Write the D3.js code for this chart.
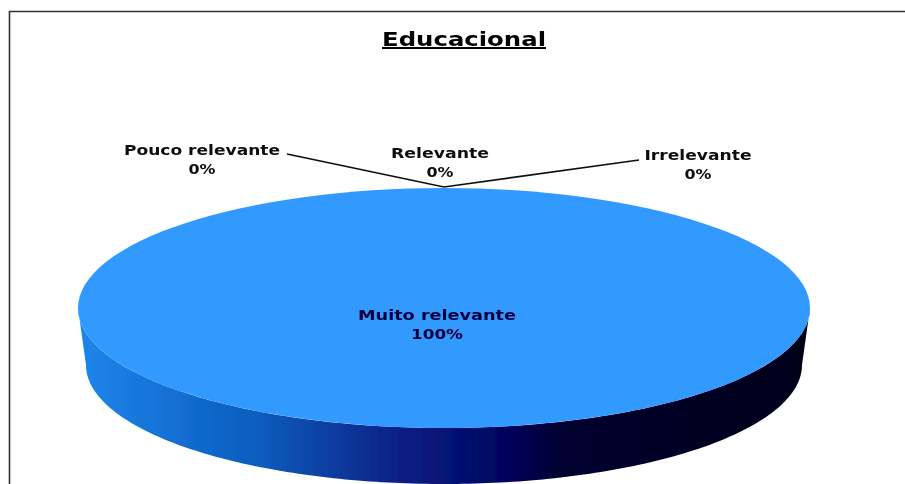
<!DOCTYPE html>
<html>
    <head>
        <title>Educacional</title>
        <script src="https://d3js.org/d3.v7.min.js"></script>
        <style>
            body { margin: 0; background: #fff; }
            text { font-family: "DejaVu Sans", sans-serif; font-weight: bold; text-anchor: middle; }
        </style>
    </head>
    <body>
        <svg id="chart" width="905" height="484" style="display:block"></svg>
        <script>
            var categories = ['Muito relevante', 'Relevante', 'Pouco relevante', 'Irrelevante'];
            var values = [100, 0, 0, 0];
            var percentLabels = ['100%', '0%', '0%', '0%'];
            var sideStops = [
                [0, '#1f86ea'], [0.17, '#1068cc'], [0.25, '#0a5cbc'],
                [0.44, '#0a1f85'], [0.58, '#020560'], [0.66, '#000030'], [1, '#000018']
            ];

            var svg = d3.select('#chart');

            var defs = svg.append('defs');
            var blur = defs.append('filter').attr('id', 'soft')
                .attr('x', '-5%').attr('y', '-20%').attr('width', '110%').attr('height', '140%');
            blur.append('feGaussianBlur').attr('stdDeviation', 0.6);

            var grad = defs.append('linearGradient').attr('id', 'side');
            sideStops.forEach(function (s) {
                grad.append('stop').attr('offset', s[0]).attr('stop-color', s[1]);
            });

            // only the top and left edges of the frame are in the image
            svg.append('path').attr('d', 'M9.5,484V11.5H905')
                .attr('fill', 'none').attr('stroke', '#333').attr('stroke-width', 1.6);

            svg.append('text').attr('x', 464).attr('y', 46).attr('font-size', 20)
                .attr('textLength', 164).attr('lengthAdjust', 'spacingAndGlyphs')
                .attr('text-decoration', 'underline').attr('filter', 'url(#soft)').text('Educacional');

            // top ellipse and the narrower bottom rim
            var cx = 444, cy = 308;
            var rx = d3.scaleLinear().domain([0, 1]).range([0, 366]);
            var ry = d3.scaleLinear().domain([0, 1]).range([0, 120]);
            var rimX = d3.scaleLinear().domain([0, 1]).range([0, 358]);
            var rimY = d3.scaleLinear().domain([0, 1]).range([0, 119]);
            var rimCy = 365;

            var pie = d3.pie().sort(null).startAngle(0).endAngle(2 * Math.PI);
            var slices = pie(values);

            var frontAngles = d3.range(0, 181).map(function (i) {
                return Math.PI / 2 + i * Math.PI / 180;
            });
            var side = d3.line();
            var sidePts = frontAngles.map(function (a) {
                return [cx + rx(Math.sin(a)), cy - ry(Math.cos(a))];
            }).concat(frontAngles.slice().reverse().map(function (a) {
                return [cx + rimX(Math.sin(a)), rimCy - rimY(Math.cos(a))];
            }));
            svg.append('path').attr('d', side(sidePts) + 'Z')
                .attr('fill', 'url(#side)').attr('filter', 'url(#soft)');

            // filter goes on the outer group, the inner one is scaled to the ellipse
            var arc = d3.arc().innerRadius(0).outerRadius(1);
            svg.append('g').attr('filter', 'url(#soft)').append('g')
                .attr('transform', 'translate(' + cx + ',' + cy + ') scale(' + rx(1) + ',' + ry(1) + ')')
                .selectAll('path').data(slices).enter().append('path')
                .attr('d', arc).attr('fill', '#3399ff');

            // label placement: x, first baseline, width of name, width of percent
            var labelPos = {
                'Muito relevante': [437, 320, 158, 52],
                'Relevante': [440, 158, 98, 27],
                'Pouco relevante': [202, 155, 156, 27],
                'Irrelevante': [698, 160, 107, 27]
            };
            var leaders = {
                'Relevante': null,
                'Pouco relevante': [[287, 154], [444, 187]],
                'Irrelevante': [[639, 160], [444, 187]]
            };

            categories.forEach(function (c, i) {
                var p = labelPos[c];
                var g = svg.append('g').attr('filter', 'url(#soft)');
                if (leaders[c]) {
                    g.append('path').attr('d', d3.line()(leaders[c]))
                        .attr('fill', 'none').attr('stroke', '#111').attr('stroke-width', 1.7);
                }
                var col = i === 0 ? '#000040' : '#111';
                g.append('text').attr('x', p[0]).attr('y', p[1]).attr('font-size', 14).attr('fill', col)
                    .attr('textLength', p[2]).attr('lengthAdjust', 'spacingAndGlyphs').text(c);
                g.append('text').attr('x', p[0]).attr('y', p[1] + 19).attr('font-size', 14).attr('fill', col)
                    .attr('textLength', p[3]).attr('lengthAdjust', 'spacingAndGlyphs').text(percentLabels[i]);
            });
        </script>
    </body>
</html>
